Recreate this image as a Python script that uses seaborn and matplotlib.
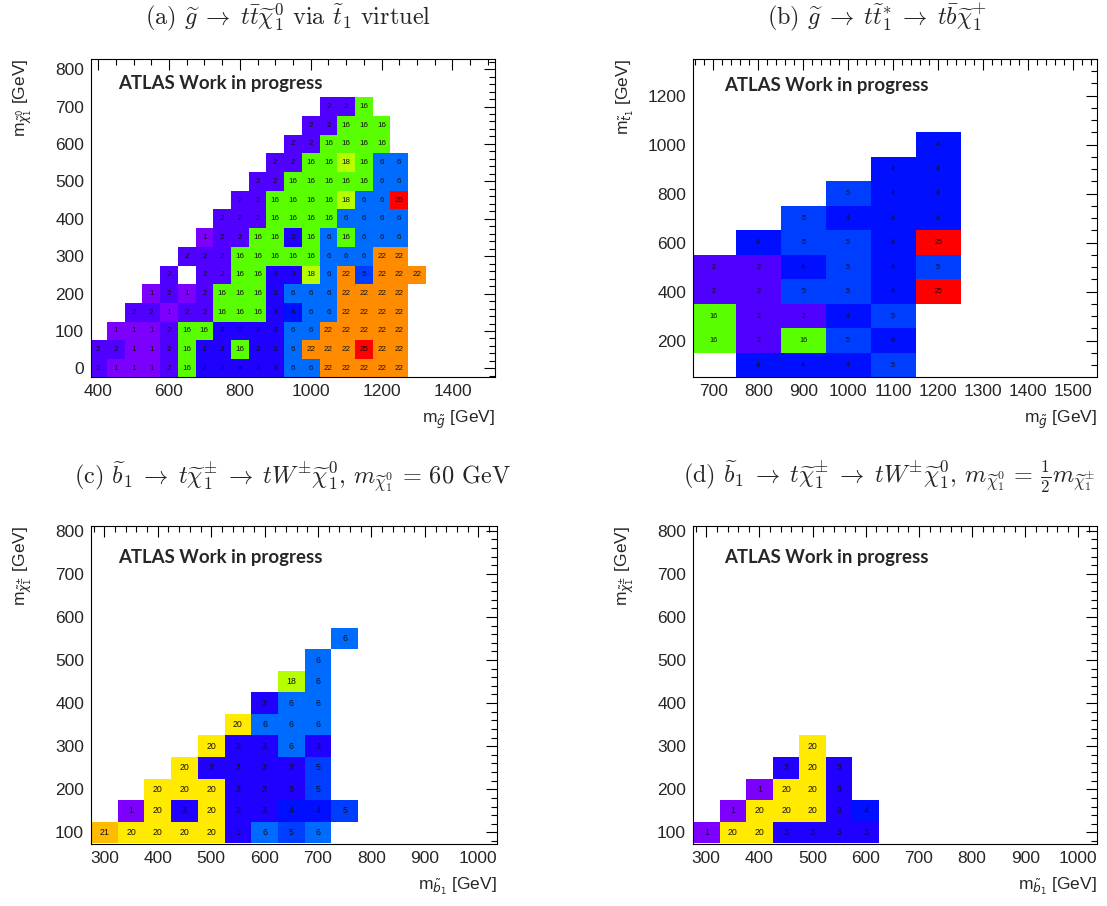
import colorsys
import pandas as pd
import matplotlib
matplotlib.use("Agg")
import matplotlib.pyplot as plt
from matplotlib.colors import ListedColormap
from matplotlib.ticker import MultipleLocator
import seaborn as sns

# Figure size in pixels (dpi 100)
W, H = 1107, 906

# (a) gluino -> t tbar chi10 via virtual stop : signal region per mass point
A_LSP = [0, 50, 100, 150, 200, 250, 300, 350, 400, 450, 500, 550, 600, 650, 700]
A_FIRST_GLUINO = [400, 400, 450, 500, 550, 600, 650, 700, 750, 800, 850, 900, 950, 1000, 1050]
A_SR = [
    [2, 1, 1, 1, 2, 16, 3, 3, 3, 3, 3, 6, 6, 22, 22, 22, 22, 22],
    [2, 2, 1, 1, 2, 16, 3, 3, 16, 3, 3, 6, 22, 22, 22, 25, 22, 22],
    [1, 1, 1, 2, 16, 16, 3, 3, 3, 3, 6, 6, 22, 22, 22, 22, 22],
    [2, 2, 1, 2, 2, 16, 16, 16, 3, 4, 6, 6, 22, 22, 22, 22],
    [1, 2, 1, 2, 16, 16, 16, 3, 6, 6, 6, 22, 22, 22, 22],
    [2, 0, 2, 2, 16, 16, 3, 3, 18, 6, 22, 5, 22, 22, 22],
    [2, 2, 2, 16, 16, 16, 16, 16, 6, 6, 6, 22, 22],
    [1, 2, 2, 16, 16, 3, 16, 6, 16, 6, 6, 6],
    [2, 2, 2, 16, 16, 16, 16, 6, 6, 6, 6],
    [2, 2, 16, 16, 16, 16, 18, 6, 6, 25],
    [2, 2, 16, 16, 16, 16, 16, 6, 6],
    [2, 2, 16, 16, 18, 16, 6, 6],
    [2, 2, 16, 16, 16, 16],
    [2, 2, 16, 16, 16],
    [2, 2, 16],
]

# (b) gluino -> t stop* -> t bbar chi1+
B_STOP = [100, 200, 300, 400, 500, 600, 700, 800, 900, 1000]
B_FIRST_GLUINO = [800, 700, 700, 700, 700, 800, 900, 1000, 1100, 1200]
B_SR = [
    [4, 4, 4, 5],
    [16, 2, 16, 5, 4],
    [16, 2, 2, 4, 5],
    [2, 2, 5, 5, 4, 25],
    [2, 2, 4, 5, 4, 5],
    [4, 5, 5, 4, 25],
    [5, 4, 4, 4],
    [5, 4, 4],
    [4, 4],
    [4],
]

# (c) sbottom -> t chi1+- -> t W chi10, m(chi10) = 60 GeV
C_CHARGINO = [100, 150, 200, 250, 300, 350, 400, 450, 500, 550]
C_FIRST_SBOTTOM = [300, 350, 400, 450, 500, 550, 600, 650, 700, 750]
C_SR = [
    [21, 20, 20, 20, 20, 3, 6, 5, 6],
    [1, 20, 3, 20, 3, 3, 4, 4, 5],
    [20, 20, 20, 3, 3, 3, 5],
    [20, 3, 3, 3, 3, 5],
    [20, 3, 3, 6, 3],
    [20, 6, 6, 6],
    [3, 6, 6],
    [18, 6],
    [6],
    [6],
]

# (d) sbottom -> t chi1+- -> t W chi10, m(chi10) = m(chi1+-)/2
D_CHARGINO = [100, 150, 200, 250, 300]
D_FIRST_SBOTTOM = [300, 350, 400, 450, 500]
D_SR = [
    [1, 20, 20, 3, 3, 3, 3],
    [1, 20, 20, 20, 3, 4],
    [1, 20, 20, 3],
    [3, 20, 3],
    [20],
]

TITLES = [
    r"(a) $\widetilde{g} \;\rightarrow\; t\bar{t}\widetilde{\chi}_1^0$ via $\widetilde{t}_1$ virtuel",
    r"(b) $\widetilde{g} \;\rightarrow\; t\widetilde{t}_1^{*} \;\rightarrow\; t\bar{b}\widetilde{\chi}_1^{+}$",
    r"(c) $\widetilde{b}_1 \;\rightarrow\; t\widetilde{\chi}_1^{\pm} \;\rightarrow\; tW^{\pm}\widetilde{\chi}_1^0$, "
    r"$m_{\widetilde{\chi}_1^0} \,=\, 60$ GeV",
    r"(d) $\widetilde{b}_1 \;\rightarrow\; t\widetilde{\chi}_1^{\pm} \;\rightarrow\; tW^{\pm}\widetilde{\chi}_1^0$, "
    r"$m_{\widetilde{\chi}_1^0} \,=\, \frac{1}{2}m_{\widetilde{\chi}_1^{\pm}}$",
]
XLABELS = [r"m$_{\tilde{g}}$ [GeV]", r"m$_{\tilde{g}}$ [GeV]",
           r"m$_{\tilde{b}_1}$ [GeV]", r"m$_{\tilde{b}_1}$ [GeV]"]
YLABELS = [r"m$_{\tilde{\chi}^0_1}$ [GeV]", r"m$_{\tilde{t}_1}$ [GeV]",
           r"m$_{\tilde{\chi}^{\pm}_1}$ [GeV]", r"m$_{\tilde{\chi}^{\pm}_1}$ [GeV]"]


def root_palette(n=50):
    """Old ROOT 'pretty' palette: violet to red in HLS."""
    cols = []
    for i in range(n):
        hue = 275.0 - (i + 1) * 275.0 / n
        cols.append(colorsys.hls_to_rgb(hue / 360.0, 0.5, 1.0))
    return ListedColormap(cols)


def to_frame(ys, firsts, rows, step):
    recs = []
    for y, x0, vals in zip(ys, firsts, rows):
        for i, v in enumerate(vals):
            if v:
                recs.append((x0 + i * step, y, v))
    return pd.DataFrame(recs, columns=["mx", "my", "sr"])


def px_axes(fig, left, top, right, bottom):
    return fig.add_axes([left / W, 1 - bottom / H, (right - left) / W, (bottom - top) / H])


sns.set_style("white")
plt.rcParams["font.family"] = ["Liberation Sans", "DejaVu Sans"]

cmap = root_palette()
fig = plt.figure(figsize=(W / 100, H / 100), dpi=100)

panels = [
    dict(df=to_frame(A_LSP, A_FIRST_GLUINO, A_SR, 50), step=50,
         box=(91, 59, 495, 377), xlim=(380, 1520), ylim=(-23, 827),
         xt=(200, 50), yt=(100, 20), fs=5.8, title_xy=(288, 17), atlas_xy=(118, 84)),
    dict(df=to_frame(B_STOP, B_FIRST_GLUINO, B_SR, 100), step=100,
         box=(693, 59, 1097, 377), xlim=(655, 1553), ylim=(52, 1350),
         xt=(100, 20), yt=(200, 50), fs=5.2, title_xy=(877, 17), atlas_xy=(724, 85)),
    dict(df=to_frame(C_CHARGINO, C_FIRST_SBOTTOM, C_SR, 50), step=50,
         box=(91, 526, 497, 844), xlim=(275, 1035), ylim=(73, 811),
         xt=(100, 20), yt=(100, 20), fs=6.3, title_xy=(292, 477), atlas_xy=(118, 558)),
    dict(df=to_frame(D_CHARGINO, D_FIRST_SBOTTOM, D_SR, 50), step=50,
         box=(693, 526, 1097, 844), xlim=(275, 1035), ylim=(73, 811),
         xt=(100, 20), yt=(100, 20), fs=6.3, title_xy=(683, 477), atlas_xy=(724, 558)),
]

for k, p in enumerate(panels):
    ax = px_axes(fig, *p["box"])
    df, step = p["df"], p["step"]
    brange = ((df.mx.min() - step / 2, df.mx.max() + step / 2),
              (df.my.min() - step / 2, df.my.max() + step / 2))
    sns.histplot(data=df, x="mx", y="my", weights="sr", binwidth=step,
                 binrange=brange, cmap=cmap, vmin=1, vmax=25, ax=ax)
    for _, r in df.iterrows():
        ax.text(r.mx, r.my, str(int(r.sr)), ha="center", va="center",
                fontsize=p["fs"], color="#111111")

    ax.set_xlim(*p["xlim"])
    ax.set_ylim(*p["ylim"])
    ax.xaxis.set_major_locator(MultipleLocator(p["xt"][0]))
    ax.xaxis.set_minor_locator(MultipleLocator(p["xt"][1]))
    ax.yaxis.set_major_locator(MultipleLocator(p["yt"][0]))
    ax.yaxis.set_minor_locator(MultipleLocator(p["yt"][1]))
    ax.tick_params(which="both", direction="in", top=True, right=True,
                   width=0.8, color="black", labelsize=12.5)
    ax.tick_params(which="major", length=8, pad=5)
    ax.tick_params(which="minor", length=4)
    for s in ax.spines.values():
        s.set_color("black")
        s.set_linewidth(0.8)

    ax.set_xlabel(XLABELS[k], loc="right", fontsize=12.5, math_fontfamily="dejavusans")
    ax.xaxis.set_label_coords(1.0, -0.10)
    ax.set_ylabel(YLABELS[k], loc="top", fontsize=12.5, math_fontfamily="dejavusans")
    ax.yaxis.set_label_coords(-0.14, 1.0)

    fig.text(p["atlas_xy"][0] / W, 1 - p["atlas_xy"][1] / H, "ATLAS Work in progress",
             family="Lato", weight="bold", fontsize=13.4, ha="left", va="center")
    # last title runs past the right edge in the original, so anchor it on the left
    ha = "left" if k == 3 else "center"
    fig.text(p["title_xy"][0] / W, 1 - p["title_xy"][1] / H, TITLES[k],
             family="cmr10", math_fontfamily="cm", fontsize=17.5, ha=ha, va="center")

fig.savefig("out.png", dpi=100)
